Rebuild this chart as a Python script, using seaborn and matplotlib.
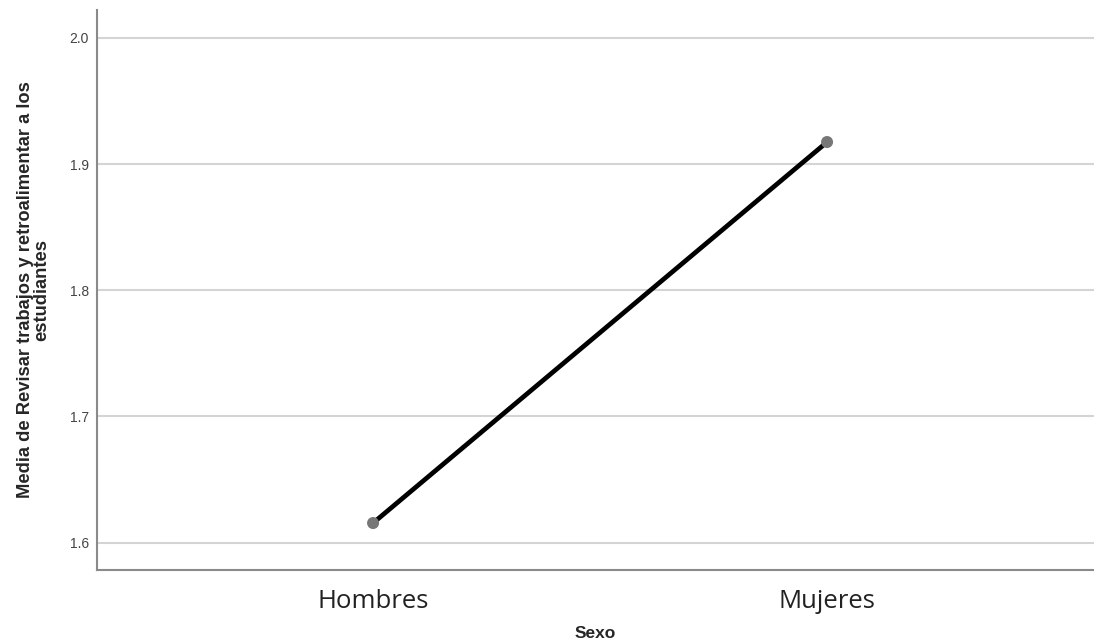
import numpy as np
import pandas as pd
import seaborn as sns
import matplotlib.pyplot as plt

# Data
sexo = ["Hombres", "Mujeres"]
media = [1.6156, 1.9174]
y_ticks = [1.6, 1.7, 1.8, 1.9, 2.0]

df = pd.DataFrame({"Sexo": sexo, "Media": media})

sns.set_style("white")
plt.rcParams["font.family"] = ["Liberation Sans", "DejaVu Sans"]

fig = plt.figure(figsize=(10.94, 6.44), dpi=100)
ax = fig.add_axes([0.0887, 0.1149, 0.9113, 0.8696])

sns.lineplot(data=df, x="Sexo", y="Media", color="black", linewidth=3.4,
             ax=ax, zorder=3, sort=False)
sns.scatterplot(data=df, x="Sexo", y="Media", color="#777777", s=75,
                edgecolor="none", ax=ax, zorder=4)

ax.set_xlim(-0.608, 1.588)
ax.set_ylim(1.5784, 2.022)
ax.set_yticks(y_ticks)
ax.set_yticklabels([f"{t:.1f}" for t in y_ticks])
ax.yaxis.grid(True, color="#d4d4d4", linewidth=1.5)
ax.xaxis.grid(False)
ax.set_axisbelow(True)

for side in ["top", "right"]:
    ax.spines[side].set_visible(False)
for side in ["left", "bottom"]:
    ax.spines[side].set_color("#8a8a8a")
    ax.spines[side].set_linewidth(1.5)

ax.tick_params(axis="both", length=0)
ax.tick_params(axis="y", labelsize=10, labelcolor="#444444", pad=6)
for lab in ax.get_xticklabels():
    lab.set_fontfamily(["Open Sans", "DejaVu Sans"])
    lab.set_fontsize(18.5)
    lab.set_color("#222222")
ax.tick_params(axis="x", pad=14)

ax.set_xlabel("Sexo", fontsize=12.5, fontweight="bold", labelpad=8)
ax.set_ylabel("Media de Revisar trabajos y retroalimentar a los\nestudiantes",
              fontsize=13.2, fontweight="bold", labelpad=14, linespacing=0.92)

fig.savefig("out.png", dpi=100)
